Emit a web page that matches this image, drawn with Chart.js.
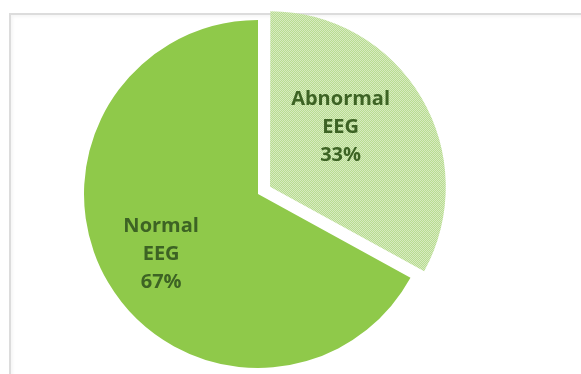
<!DOCTYPE html>
<html lang="en">
<head>
  <meta charset="UTF-8" />
  <title>EEG</title>
  <script src="https://cdn.jsdelivr.net/npm/chart.js"></script>
  <style>
    body { margin: 0; background: #fff; overflow: hidden; }
    #wrap { position: relative; width: 581px; height: 374px; overflow: hidden; }
    #frame {
      position: absolute; left: 9px; top: 13px; width: 800px; height: 600px;
      border: 2px solid #dcdcdc; box-shadow: inset 2px 2px 3px rgba(0,0,0,0.04);
    }
    #myChart { position: absolute; left: 0; top: 0; }
  </style>
</head>
<body>
  <div id="wrap">
    <div id="frame"></div>
    <canvas id="myChart" width="581" height="374"></canvas>
  </div>

<script>
  // dados do grafico
  const categorias = ["Abnormal EEG", "Normal EEG"];
  const valores = [33, 67];

  // textura pontilhada da fatia "Abnormal"
  function criarPadrao() {
    const c = document.createElement("canvas");
    c.width = 2;
    c.height = 2;
    const g = c.getContext("2d");
    g.fillStyle = "#e0f0cd";
    g.fillRect(0, 0, 2, 2);
    g.fillStyle = "#b0d885";
    g.fillRect(0, 0, 1, 1);
    g.fillRect(1, 1, 1, 1);
    return g.createPattern(c, "repeat");
  }

  const ctx = document.getElementById("myChart").getContext("2d");
  const padrao = criarPadrao();

  // posicao dos rotulos dentro de cada fatia (fracao do angulo, fracao do raio)
  const posRotulo = [
    { ang: 0.42, raio: 0.53 },
    { ang: 0.495, raio: 0.655 }
  ];

  const rotulosPlugin = {
    id: "rotulos",
    afterDatasetsDraw(chart) {
      const meta = chart.getDatasetMeta(0);
      const total = valores.reduce((a, b) => a + b, 0);
      const c = chart.ctx;
      c.save();
      c.font = "bold 20px 'Open Sans'";
      c.fillStyle = "#3d6324";
      c.textAlign = "center";
      c.textBaseline = "middle";
      meta.data.forEach((arc, i) => {
        const p = arc.getProps(["x", "y", "startAngle", "endAngle", "outerRadius"], true);
        // chart.js v4 desloca o arco em offset/4
        const off = chart.data.datasets[0].offset[i] / 4;
        const meio = (p.startAngle + p.endAngle) / 2;
        const cx = p.x + off * Math.cos(meio);
        const cy = p.y + off * Math.sin(meio);
        const a = p.startAngle + (p.endAngle - p.startAngle) * posRotulo[i].ang;
        const r = p.outerRadius * posRotulo[i].raio;
        const x = cx + r * Math.cos(a);
        const y = cy + r * Math.sin(a);
        const linhas = categorias[i].split(" ");
        linhas.push(Math.round(valores[i] / total * 100) + "%");
        const lh = 28;
        linhas.forEach((t, k) => {
          c.fillText(t, x, y + (k - (linhas.length - 1) / 2) * lh);
        });
      });
      c.restore();
    }
  };

  new Chart(ctx, {
    type: "pie",
    data: {
      labels: categorias,
      datasets: [
        {
          data: valores,
          backgroundColor: [padrao, "#8fc94a"],
          borderWidth: 0,
          offset: [56, 0],
          hoverOffset: 0
        }
      ]
    },
    options: {
      responsive: false,
      animation: false,
      radius: 174,
      layout: {
        padding: { left: 0, right: 65, top: 14, bottom: 0 }
      },
      plugins: {
        legend: { display: false },
        tooltip: { enabled: false }
      }
    },
    plugins: [rotulosPlugin]
  });
</script>
</body>
</html>
